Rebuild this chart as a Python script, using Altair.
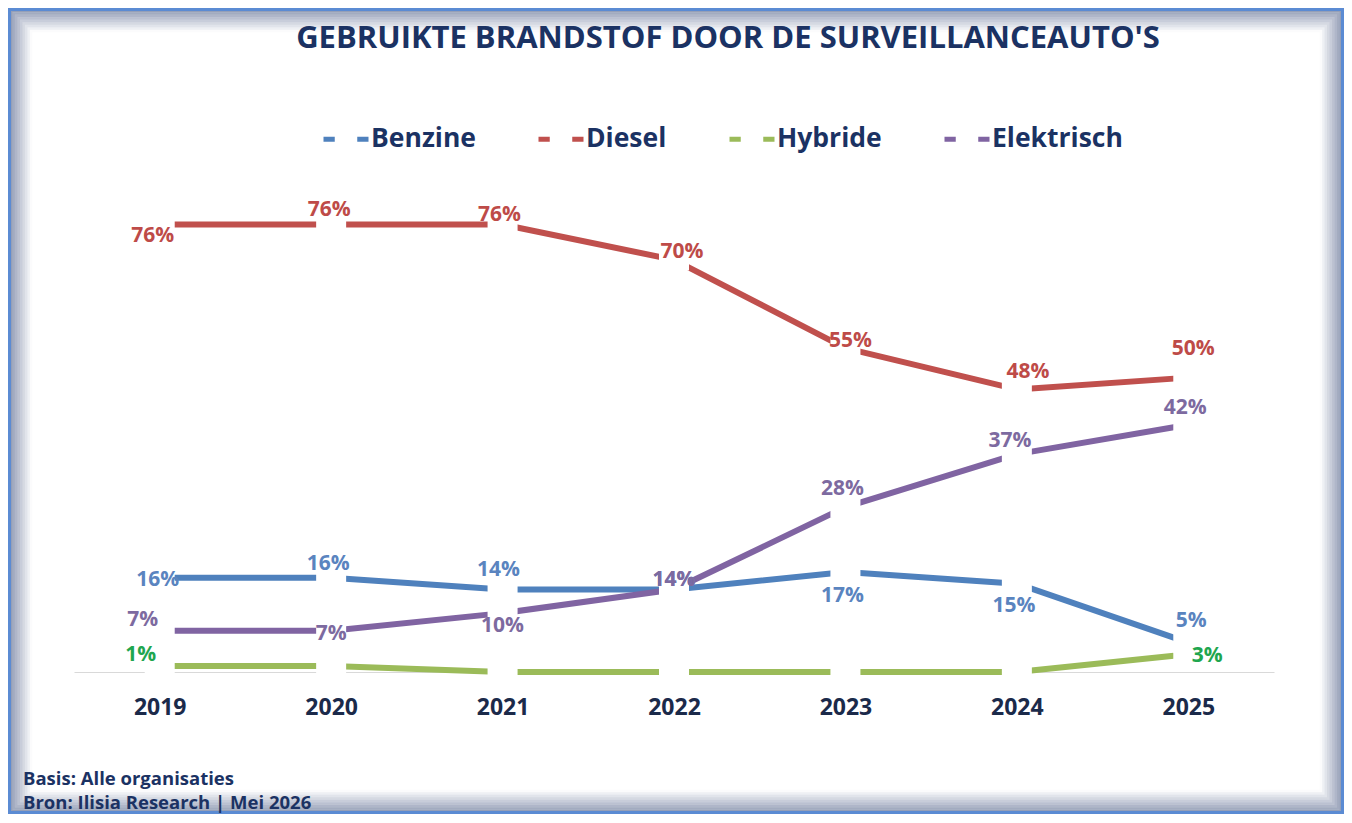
import altair as alt
import pandas as pd

YEARS = [2019, 2020, 2021, 2022, 2023, 2024, 2025]
SERIES = ["Benzine", "Diesel", "Hybride", "Elektrisch"]
BENZINE = [16, 16, 14, 14, 17, 15, 5]
DIESEL = [76, 76, 76, 70, 55, 48, 50]
HYBRIDE = [1, 1, 0, 0, 0, 0, 3]
ELEKTRISCH = [7, 7, 10, 14, 28, 37, 42]
TITLE = "GEBRUIKTE BRANDSTOF DOOR DE SURVEILLANCEAUTO'S"
FOOTER = ["Basis: Alle organisaties", "Bron: Ilisia Research | Mei 2026"]

# styling
LINE_COLORS = ["#4f81bd", "#c0504d", "#9bbb59", "#8064a2"]
LABEL_COLORS = {"Benzine": "#5a84bf", "Diesel": "#be4b48",
                "Hybride": "#1fa64f", "Elektrisch": "#7d6aa0"}
NAVY = "#1b3263"
FONT = "Open Sans"

# label placement (dx, dy) in px for the labels that are shown
LABEL_POS = {
    ("Diesel", 2019): (-7, 11), ("Diesel", 2020): (-2, -15), ("Diesel", 2021): (-3, -10),
    ("Diesel", 2022): (8, -8), ("Diesel", 2023): (5, -7), ("Diesel", 2024): (11, -17),
    ("Diesel", 2025): (5, -29),
    ("Benzine", 2019): (-2, 2), ("Benzine", 2020): (-3, -14), ("Benzine", 2021): (-4, -20),
    ("Benzine", 2022): (0, -10), ("Benzine", 2023): (-3, 24), ("Benzine", 2024): (-3, 22),
    ("Benzine", 2025): (3, -22),
    ("Elektrisch", 2019): (-17, -11), ("Elektrisch", 2020): (0, 3), ("Elektrisch", 2021): (0, 13),
    ("Elektrisch", 2022): (0, -10), ("Elektrisch", 2023): (-3, -18), ("Elektrisch", 2024): (-7, -13),
    ("Elektrisch", 2025): (-3, -17),
    ("Hybride", 2019): (-19, -11), ("Hybride", 2025): (19, 2),
}

values = {"Benzine": BENZINE, "Diesel": DIESEL, "Hybride": HYBRIDE, "Elektrisch": ELEKTRISCH}
rows = []
for s in SERIES:
    for y, v in zip(YEARS, values[s]):
        rows.append({"series": s, "year": y, "value": v, "label": f"{v}%"})
df = pd.DataFrame(rows)

W, H = 1200, 471
PAD = {"left": 66, "top": 193, "right": 70, "bottom": 142}

xscale = alt.Scale(domain=[2018.5, 2025.5], nice=False, zero=False)
yscale = alt.Scale(domain=[0, 80], nice=False)

xaxis = alt.Axis(values=YEARS, format="d", title=None, ticks=False, grid=False,
                 labelFont=FONT, labelFontSize=23, labelFontWeight="bold",
                 labelColor="#1b2a4a", labelPadding=24, labelFlush=False,
                 domainColor="#d9d9d9", domainWidth=1)

base = alt.Chart(df).encode(
    x=alt.X("year:Q", scale=xscale, axis=xaxis),
    y=alt.Y("value:Q", scale=yscale, axis=None),
)

lines = base.mark_line(strokeWidth=6, strokeCap="butt", strokeJoin="round").encode(
    color=alt.Color(
        "series:N",
        scale=alt.Scale(domain=SERIES, range=LINE_COLORS),
        legend=alt.Legend(
            title=None, orient="none", legendX=247, legendY=-87, direction="horizontal",
            symbolType="M-1,0L-0.5,0M0.5,0L1,0", symbolSize=2025, symbolStrokeWidth=5,
            labelFont=FONT, labelFontSize=26.5, labelFontWeight="bold", labelColor=NAVY,
            labelOffset=0, columnPadding=52, padding=0, labelLimit=400,
        ),
    )
)

gaps = base.mark_point(
    shape="M-1,-0.7L1,-0.7L1,0.7L-1,0.7Z", size=900, filled=True,
    color="white", opacity=1, strokeWidth=0,
)

label_layers = []
for (s, yr), (dx, dy) in LABEL_POS.items():
    label_layers.append(
        base.transform_filter(
            (alt.datum.series == s) & (alt.datum.year == yr)
        ).mark_text(
            dx=dx, dy=dy, font=FONT, fontSize=21, fontWeight="bold",
            color=LABEL_COLORS[s], align="center", baseline="middle",
        ).encode(text="label:N")
    )

one = pd.DataFrame({"k": [0]})
frame_layers = []
for i in range(9):
    inset = 3 + i * 2.5
    frame_layers.append(
        alt.Chart(one).mark_rect(fill="white", fillOpacity=0, stroke="#2c3f70",
                                 strokeWidth=2.6, strokeOpacity=max(0.5 - i * 0.06, 0.02)).encode(
            x=alt.value(-PAD["left"] + inset), x2=alt.value(W + PAD["right"] - inset),
            y=alt.value(-PAD["top"] + inset), y2=alt.value(H + PAD["bottom"] - inset),
        )
    )
frame_layers.append(
    alt.Chart(one).mark_rect(fill="white", fillOpacity=0, stroke="#5b8bd3", strokeWidth=3).encode(
        x=alt.value(-PAD["left"] + 1.5), x2=alt.value(W + PAD["right"] - 1.5),
        y=alt.value(-PAD["top"] + 1.5), y2=alt.value(H + PAD["bottom"] - 1.5),
    )
)

title = alt.Chart(one).mark_text(
    text=TITLE, font=FONT, fontSize=31, fontWeight="bold", color=NAVY,
    align="center", baseline="middle",
).encode(x=alt.value(654), y=alt.value(-162))

footer1 = alt.Chart(one).mark_text(
    text=FOOTER[0], font=FONT, fontSize=18.5, fontWeight="bold", color=NAVY,
    align="left", baseline="alphabetic",
).encode(x=alt.value(-51), y=alt.value(584))
footer2 = alt.Chart(one).mark_text(
    text=FOOTER[1], font=FONT, fontSize=18.5, fontWeight="bold", color=NAVY,
    align="left", baseline="alphabetic",
).encode(x=alt.value(-51), y=alt.value(608))

chart = alt.layer(
    *frame_layers, lines, gaps, *label_layers, title, footer1, footer2
).properties(
    width=W, height=H, autosize="none", padding=PAD, background="white"
).configure_view(strokeWidth=0)

chart.save("out.html", embed_options={"renderer": "svg", "actions": False})
